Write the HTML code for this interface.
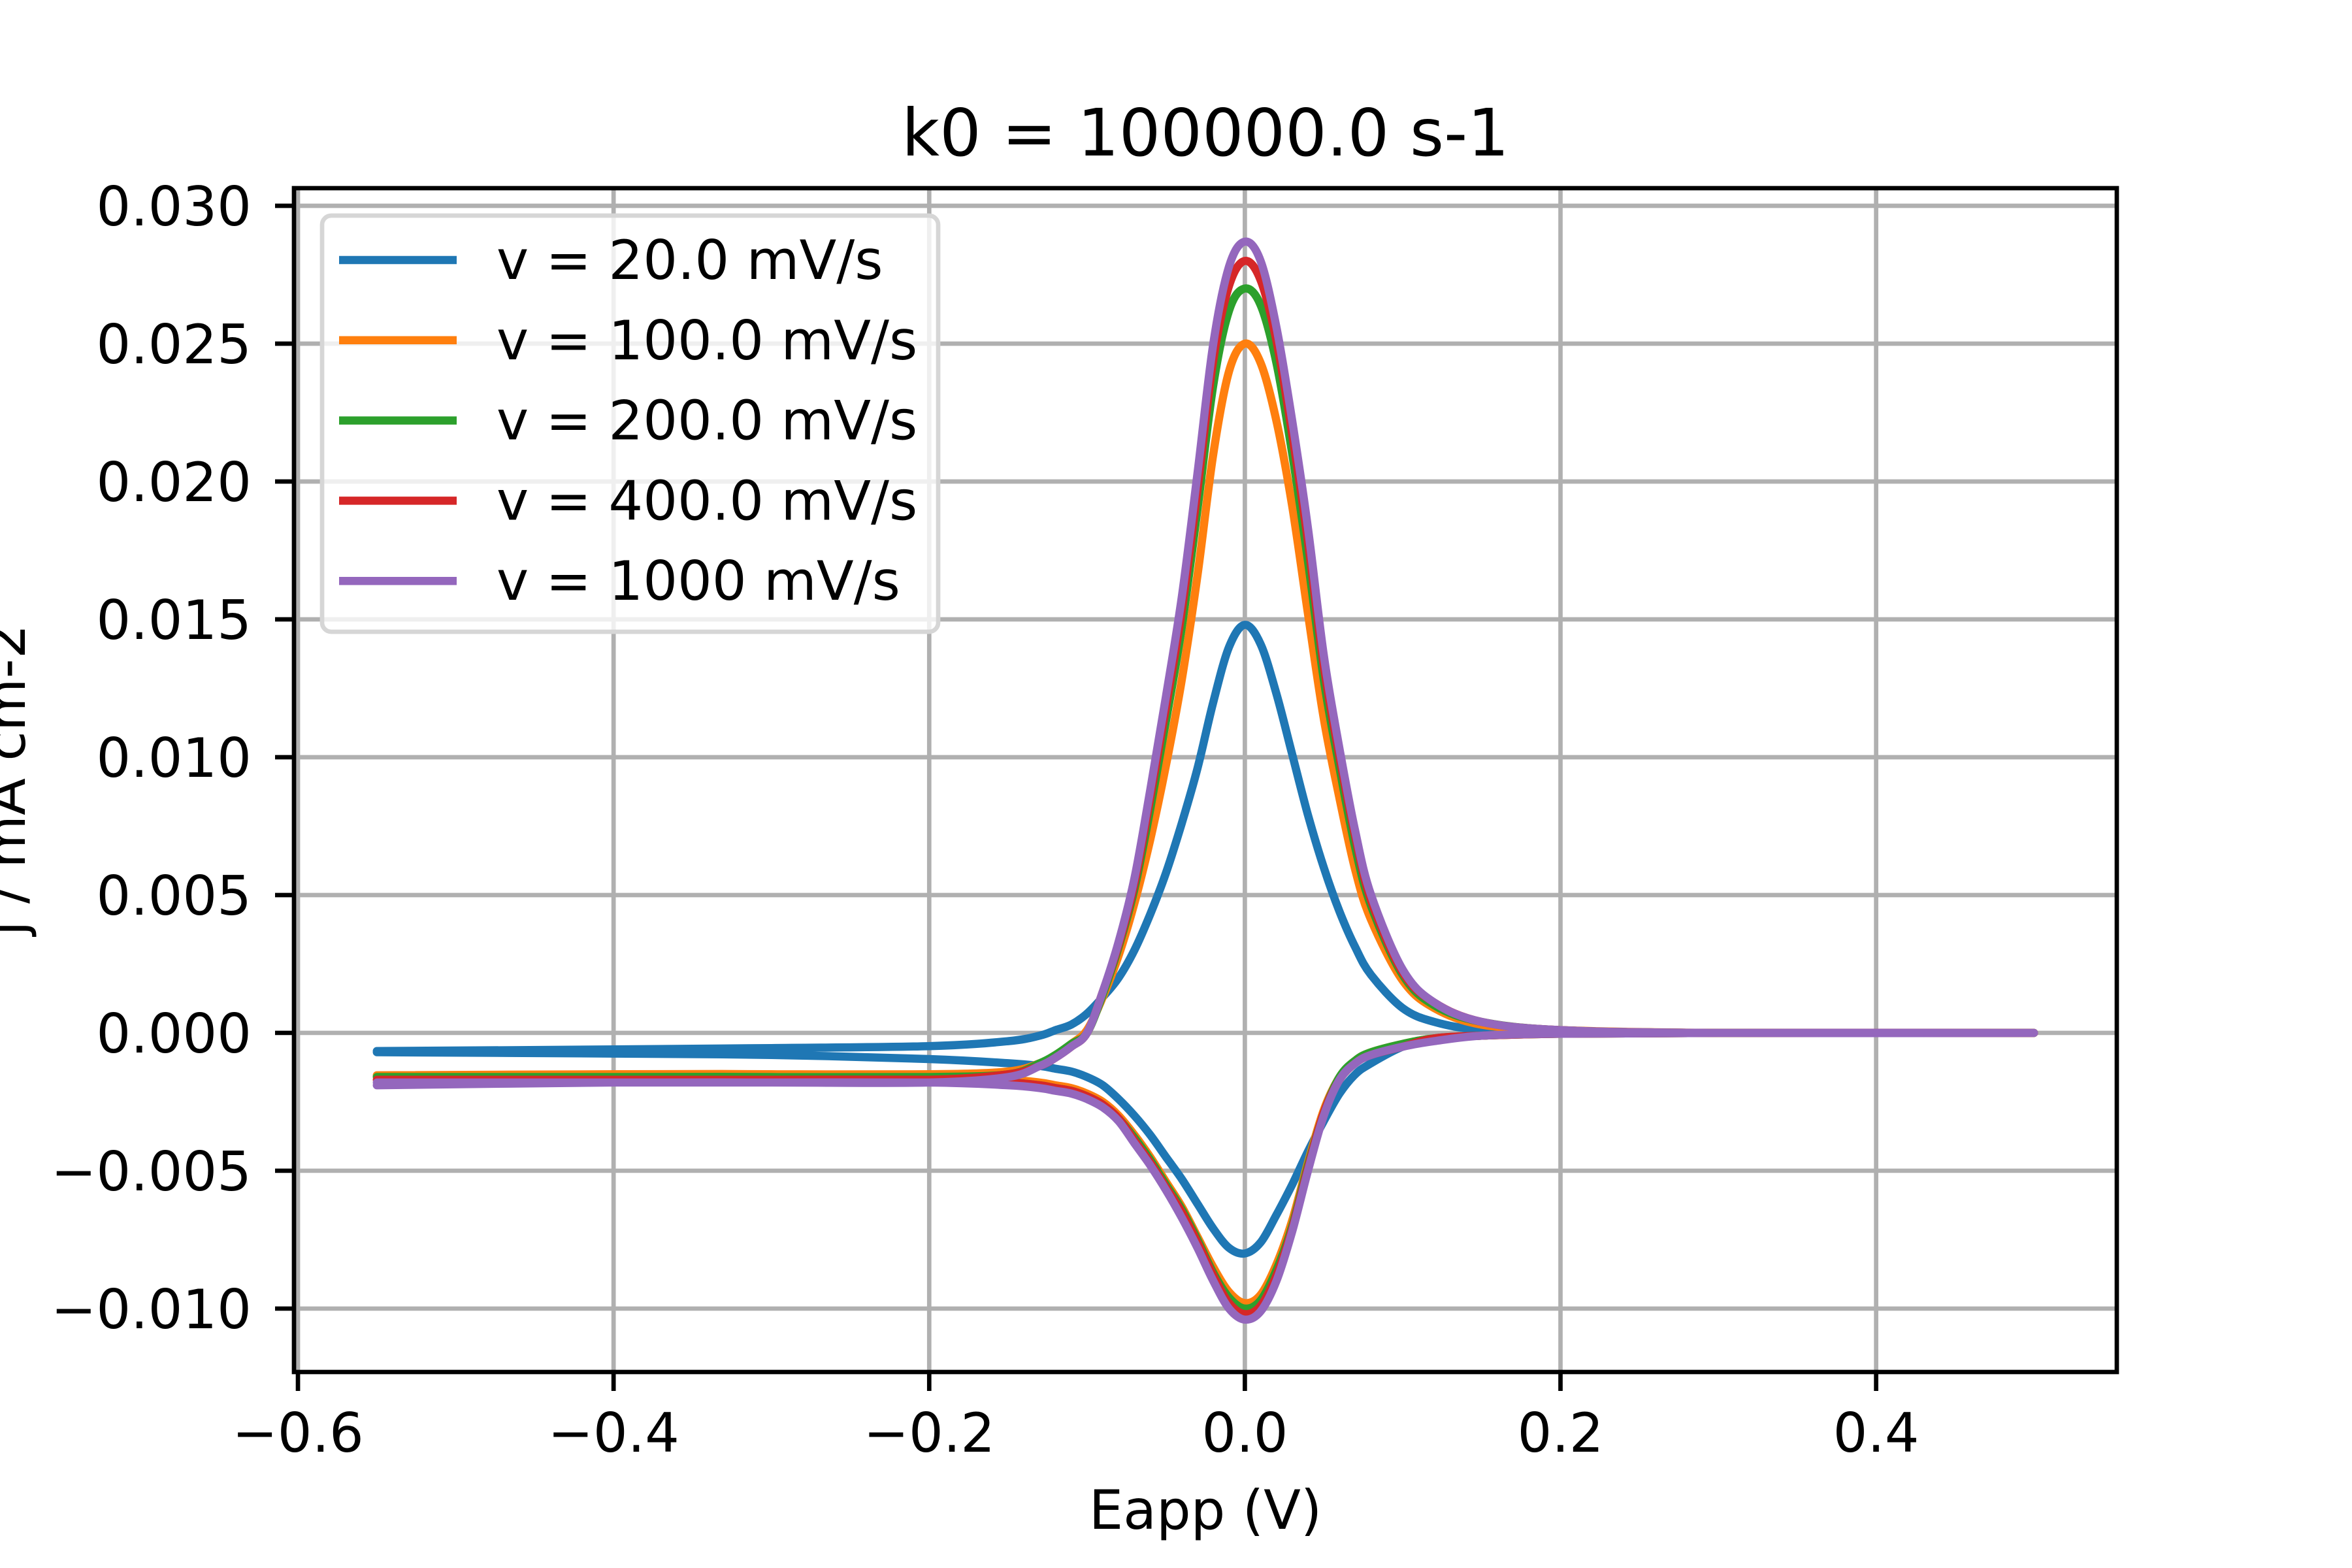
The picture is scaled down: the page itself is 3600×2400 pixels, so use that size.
<!DOCTYPE html>
<html><head><meta charset="utf-8"><style>
html,body{margin:0;padding:0;background:#fff;}
svg{display:block;font-family:"DejaVu Sans","Liberation Sans",sans-serif;}
</style></head><body>
<svg id="chart" width="3600" height="2400" viewBox="0 0 3600 2400" xmlns="http://www.w3.org/2000/svg">
<rect x="0" y="0" width="3600" height="2400" fill="#fff"/>
<g id="grid"></g>
<g id="series"></g>
<g id="axes"></g>
<text x="1845" y="238" font-size="100" text-anchor="middle">k0 = 100000.0 s-1</text>
<text x="1845" y="2340" font-size="83" text-anchor="middle">Eapp (V)</text>
<text transform="translate(38,1194) rotate(-90)" font-size="83" text-anchor="middle">j / mA cm-2</text>
<g id="legend"></g>
</svg>
<script>
const xTicks = [-0.6, -0.4, -0.2, 0.0, 0.2, 0.4];
const xTickLabels = ["\u22120.6", "\u22120.4", "\u22120.2", "0.0", "0.2", "0.4"];
const yTicks = [0.030, 0.025, 0.020, 0.015, 0.010, 0.005, 0.000, -0.005, -0.010];
const yTickLabels = ["0.030", "0.025", "0.020", "0.015", "0.010", "0.005", "0.000", "\u22120.005", "\u22120.010"];
const seriesNames = ["v = 20.0 mV/s", "v = 100.0 mV/s", "v = 200.0 mV/s", "v = 400.0 mV/s", "v = 1000 mV/s"];
const seriesColors = ["#1f77b4", "#ff7f0e", "#2ca02c", "#d62728", "#9467bd"];
const potentials = [-0.55,-0.4,-0.3,-0.2,-0.15,-0.13,-0.12,-0.11,-0.10,-0.09,-0.08,-0.07,-0.06,-0.05,-0.04,-0.03,-0.02,-0.01,0,0.01,0.02,0.03,0.04,0.05,0.06,0.07,0.08,0.10,0.12,0.15,0.2,0.3,0.5];
const fwd20 = [-0.00066,-0.0006,-0.00055,-0.00048,-0.0003,-0.0001,0.0001,0.0003,0.0007,0.0013,0.0020,0.0030,0.0043,0.0058,0.0076,0.0096,0.0120,0.0140,0.0148,0.0141,0.0123,0.0101,0.0079,0.0060,0.0044,0.0031,0.0021,0.0009,0.0004,0.0001,0,0,0];
const fwd100 = [-0.00154,-0.0015,-0.0015,-0.0015,-0.0014,-0.0011,-0.0008,-0.0004,0.0001,0.0013,0.0028,0.0047,0.0070,0.0097,0.0128,0.0166,0.0210,0.0240,0.0250,0.0243,0.0222,0.0191,0.0152,0.0114,0.0085,0.0059,0.0041,0.0019,0.0009,0.0003,0.0001,0,0];
const fwd200 = [-0.0016,-0.0016,-0.0016,-0.0016,-0.0015,-0.0011,-0.0008,-0.0004,0.0000,0.0014,0.0031,0.0052,0.0081,0.0113,0.0147,0.0190,0.0235,0.0262,0.0270,0.0264,0.0243,0.0210,0.0171,0.0128,0.0096,0.0067,0.0046,0.0021,0.0010,0.0004,0.0001,0,0];
const fwd400 = [-0.0017,-0.0017,-0.0017,-0.0017,-0.0015,-0.0012,-0.0009,-0.0005,0.0000,0.0015,0.0032,0.0054,0.0085,0.0118,0.0153,0.0197,0.0244,0.0271,0.0280,0.0273,0.0251,0.0217,0.0178,0.0133,0.0100,0.0071,0.0048,0.0022,0.0011,0.0004,0.0001,0,0];
const fwd1000 = [-0.0018,-0.0018,-0.0018,-0.0018,-0.0016,-0.0012,-0.0009,-0.0005,0.0000,0.0015,0.0033,0.0056,0.0088,0.0122,0.0158,0.0203,0.0250,0.0278,0.0287,0.0280,0.0256,0.0222,0.0183,0.0137,0.0103,0.0073,0.0050,0.0023,0.0011,0.0004,0.0001,0,0];
const rev20 = [-0.0007,-0.00075,-0.0008,-0.00095,-0.0011,-0.0012,-0.0013,-0.0014,-0.0016,-0.0019,-0.0024,-0.0030,-0.0037,-0.0045,-0.0053,-0.0062,-0.0071,-0.0078,-0.0080,-0.0076,-0.0066,-0.0055,-0.0043,-0.0032,-0.0022,-0.0015,-0.0011,-0.0005,-0.0002,-0.0001,-0.00002,0,0];
const rev100 = [-0.00155,-0.0015,-0.0015,-0.0016,-0.0017,-0.0018,-0.0019,-0.0020,-0.0022,-0.0025,-0.0030,-0.0037,-0.0045,-0.0054,-0.0063,-0.0074,-0.0085,-0.0094,-0.0098,-0.0095,-0.0084,-0.0068,-0.0047,-0.0028,-0.0016,-0.0010,-0.0007,-0.0004,-0.0002,-0.0001,-0.00003,0,0];
const rev200 = [-0.0016,-0.0016,-0.0016,-0.0017,-0.0018,-0.0019,-0.0020,-0.0021,-0.0023,-0.0026,-0.0031,-0.0038,-0.0046,-0.0055,-0.0064,-0.0075,-0.0087,-0.0096,-0.0100,-0.0097,-0.0086,-0.0070,-0.0048,-0.0029,-0.0016,-0.0010,-0.0007,-0.0004,-0.0002,-0.0001,-0.00003,0,0];
const rev400 = [-0.0017,-0.0017,-0.0017,-0.0017,-0.0018,-0.0019,-0.0020,-0.0021,-0.0023,-0.0026,-0.0031,-0.0039,-0.0047,-0.0056,-0.0065,-0.0076,-0.0088,-0.0098,-0.0102,-0.0099,-0.0088,-0.0071,-0.0049,-0.0029,-0.0017,-0.0011,-0.0008,-0.0005,-0.0002,-0.0001,-0.00003,0,0];
const rev1000 = [-0.0019,-0.0018,-0.0018,-0.0018,-0.0019,-0.0020,-0.0021,-0.0022,-0.0024,-0.0027,-0.0032,-0.0040,-0.0048,-0.0057,-0.0067,-0.0078,-0.0090,-0.0100,-0.0104,-0.0101,-0.0090,-0.0072,-0.0050,-0.0030,-0.0017,-0.0011,-0.0008,-0.0005,-0.0003,-0.0001,-0.00003,0,0];
const forwardSeries = [fwd20, fwd100, fwd200, fwd400, fwd1000];
const reverseSeries = [rev20, rev100, rev200, rev400, rev1000];

const NS = "http://www.w3.org/2000/svg";
const L = 450, R = 3240, T = 288, B = 2100;
const X0 = -0.6025, X1 = 0.5525;
const Y0 = -0.0123, Y1 = 0.03064;
function xs(v){ return L + (v - X0) / (X1 - X0) * (R - L); }
function ys(v){ return B - (v - Y0) / (Y1 - Y0) * (B - T); }
function mk(tag, attrs, parent){ const e = document.createElementNS(NS, tag); for (const k in attrs) e.setAttribute(k, attrs[k]); parent.appendChild(e); return e; }

const grid = document.getElementById('grid');
const axes = document.getElementById('axes');
xTicks.forEach((t, i) => {
  const x = xs(t);
  const g = mk('line', {x1:x, x2:x, y1:T, y2:B, stroke:'#b0b0b0', 'stroke-width':6.7}, grid);
  
  
  const tk = mk('line', {x1:x, x2:x, y1:B, y2:B+29, stroke:'#000', 'stroke-width':6.7}, axes);
  
  
  const lb = mk('text', {x:x, y:2222, 'font-size':83, 'text-anchor':'middle'}, axes);
  lb.textContent = xTickLabels[i];
  
  
});
yTicks.forEach((t, i) => {
  const y = ys(t);
  const g = mk('line', {x1:L, x2:R, y1:y, y2:y, stroke:'#b0b0b0', 'stroke-width':6.7}, grid);
  
  
  const tk = mk('line', {x1:L-29, x2:L, y1:y, y2:y, stroke:'#000', 'stroke-width':6.7}, axes);
  
  
  const lb = mk('text', {x:385, y:y+30, 'font-size':83, 'text-anchor':'end'}, axes);
  lb.textContent = yTickLabels[i];
  
  
});
const frame = mk('rect', {x:L, y:T, width:R-L, height:B-T, fill:'none', stroke:'#000', 'stroke-width':6.7}, axes);



function smoothSeg(pts, move){
  let d = (move ? 'M' : 'L') + pts[0][0].toFixed(1) + ',' + pts[0][1].toFixed(1);
  for (let i = 0; i < pts.length - 1; i++) {
    const p0 = pts[Math.max(0, i-1)], p1 = pts[i], p2 = pts[i+1], p3 = pts[Math.min(pts.length-1, i+2)];
    const c1 = [p1[0] + (p2[0]-p0[0])/6, p1[1] + (p2[1]-p0[1])/6];
    const c2 = [p2[0] - (p3[0]-p1[0])/6, p2[1] - (p3[1]-p1[1])/6];
    d += 'C' + c1[0].toFixed(1) + ',' + c1[1].toFixed(1) + ' ' + c2[0].toFixed(1) + ',' + c2[1].toFixed(1) + ' ' + p2[0].toFixed(1) + ',' + p2[1].toFixed(1);
  }
  return d;
}
const seriesG = document.getElementById('series');
const seriesSlugs = ['series-20-mvs', 'series-100-mvs', 'series-200-mvs', 'series-400-mvs', 'series-1000-mvs'];
forwardSeries.forEach((fwd, s) => {
  const rev = reverseSeries[s];
  const fp = potentials.map((e, i) => [xs(e), ys(fwd[i])]);
  const rp = [];
  for (let i = potentials.length - 1; i >= 0; i--) rp.push([xs(potentials[i]), ys(rev[i])]);
  const d = smoothSeg(fp, true) + smoothSeg(rp, false);
  const p = mk('path', {d:d, fill:'none', stroke:seriesColors[s], 'stroke-width':12.5, 'stroke-linejoin':'round', 'stroke-linecap':'round'}, seriesG);
  
  
});

const leg = document.getElementById('legend');
const box = mk('rect', {x:493, y:330, width:943, height:637, rx:14, ry:14, fill:'rgba(255,255,255,0.8)', stroke:'#d6d6d6', 'stroke-width':6.7}, leg);


seriesNames.forEach((n, i) => {
  const y = 398 + i * 122.8;
  const ln = mk('line', {x1:519, x2:699, y1:y, y2:y, stroke:seriesColors[i], 'stroke-width':12.5}, leg);
  
  
  const tx = mk('text', {x:760, y:y+29, 'font-size':83}, leg);
  tx.textContent = n;
  
  
});
</script>
</body></html>
